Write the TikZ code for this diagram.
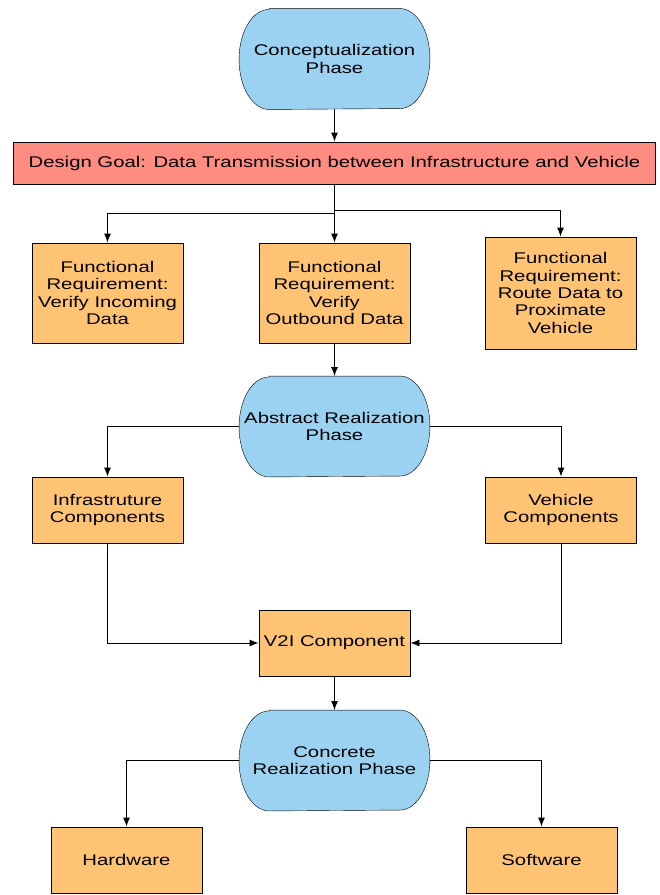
\documentclass[tikz,border=0pt]{standalone}
\usepackage{fontspec}
\setmainfont{Liberation Sans}[FakeStretch=1.31]
\usetikzlibrary{arrows.meta,backgrounds}
\definecolor{phaseblue}{RGB}{155,210,242}
\definecolor{reqorange}{RGB}{255,196,115}
\definecolor{goalred}{RGB}{255,140,128}

\begin{document}
\begin{tikzpicture}
    [
    x=1pt, y=-1pt,
    line width=0.9pt,
    phase/.style={minimum width=190pt, minimum height=100pt, inner sep=0pt},
    phaseshape/.style={draw, fill=phaseblue},
    box/.style={draw, fill=reqorange, minimum width=151pt, minimum height=66pt, inner sep=0pt},
    goalbox/.style={draw, fill=goalred, minimum width=642pt, minimum height=42pt, inner sep=0pt},
    link/.style={draw, -{Latex[length=9pt,width=7pt]}},
    every node/.style={font=\fontsize{15.5}{17.3}\selectfont, align=center}
    ]
    \useasboundingbox (0,0) rectangle (660,895);

    \node[phase] (concept) at (334.5,59) {Conceptualization\\Phase};
    \node[goalbox] (goal) at (334.5,163) {Design Goal: Data Transmission between Infrastructure and Vehicle};

    \node[box, minimum height=100pt] (incoming) at (107.5,293) {Functional\\Requirement:\\Verify Incoming\\Data};
    \node[box, minimum height=100pt] (outbound) at (334.5,293) {Functional\\Requirement:\\Verify\\Outbound Data};
    \node[box, minimum height=112pt] (route) at (560.5,293) {Functional\\Requirement:\\Route Data to\\Proximate\\Vehicle};

    \node[phase] (abstract) at (334.5,426.5) {Abstract Realization\\Phase};
    \node[box] (infra) at (107.5,510) {Infrastruture\\Components};
    \node[box] (vehicle) at (561,510) {Vehicle\\Components};
    \node[box] (v2i) at (334.5,643) {V2I Component};

    \node[phase] (concrete) at (334.5,760.5) {Concrete\\Realization Phase};
    \node[box] (hardware) at (126.5,860) {Hardware};
    \node[box] (software) at (541.5,860) {Software};

    % the three phases, with elliptic ends
    \begin{scope}[on background layer]
        \foreach \ph in {concept,abstract,concrete}
            \draw[phaseshape] ([xshift=30pt]\ph.north west) -- ([xshift=-30pt]\ph.north east)
                arc[start angle=90, end angle=-90, x radius=30pt, y radius=50pt]
                -- ([xshift=30pt]\ph.south west)
                arc[start angle=-90, end angle=-270, x radius=30pt, y radius=50pt] -- cycle;
    \end{scope}

    % goal and requirements
    \draw[link] (concept) -- (goal);
    \draw[link] (goal.south) -- ++(0,29) -| (incoming.north);
    \draw[link] (goal) -- (outbound);
    \draw[link] (goal.south) -- ++(0,26) -| (route.north);

    % abstract realization
    \draw[link] (outbound) -- (abstract);
    \draw[link] (abstract.west) -| (infra.north);
    \draw[link] (abstract.east) -| (vehicle.north);
    \draw[link] (infra.south) |- (v2i.west);
    \draw[link] (vehicle.south) |- (v2i.east);

    % concrete realization
    \draw[link] (v2i) -- (concrete);
    \draw[link] (concrete.west) -| (hardware.north);
    \draw[link] (concrete.east) -| (software.north);
\end{tikzpicture}
\end{document}
